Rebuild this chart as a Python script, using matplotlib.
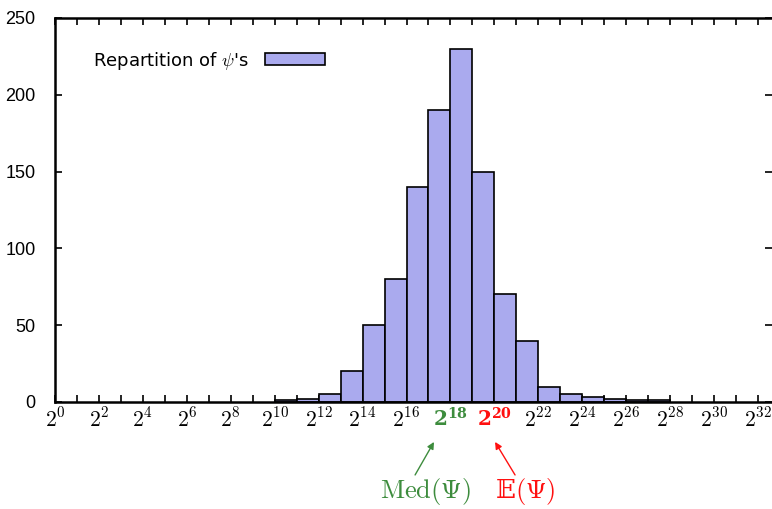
import matplotlib
matplotlib.use("Agg")
import matplotlib.pyplot as plt
import numpy as np

# exponent k of each bin [2^k, 2^(k+1)) and its count
bin_start = [10, 11, 12, 13, 14, 15, 16, 17, 18, 19, 20, 21, 22, 23, 24, 25, 26, 27]
counts = [1, 2, 5, 20, 50, 80, 140, 190, 230, 150, 70, 40, 10, 5, 3, 2, 1, 1]
xtick_pos = list(range(0, 33, 2))
ytick_pos = [0, 50, 100, 150, 200, 250]
median_exp = 18
mean_exp = 20

plt.rcParams['mathtext.fontset'] = 'cm'
plt.rcParams['font.family'] = ['Liberation Sans', 'DejaVu Sans']

green = '#3d8c3d'
red = '#ff1010'

fig = plt.figure(figsize=(7.72, 5.09), dpi=100)
ax = fig.add_axes([55/772, 1-402/509, 717/772, 384/509])

ax.bar(bin_start, counts, width=1, align='edge', color='#aaaaee',
       edgecolor='black', linewidth=1.2, label=r"Repartition of $\psi$'s", zorder=2)

ax.set_xlim(0, 717/21.97)
ax.set_ylim(0, 250)

# ticks on every exponent, labels every 2
ax.set_xticks(range(0, 33), minor=True)
ax.set_xticks(xtick_pos)
labels = []
for k in xtick_pos:
    if k == median_exp or k == mean_exp:
        labels.append(r'$\mathbf{2^{%d}}$' % k)
    else:
        labels.append(r'$2^{%d}$' % k)
ax.set_xticklabels(labels, fontsize=15.5)
for lab, k in zip(ax.get_xticklabels(), xtick_pos):
    if k == median_exp:
        lab.set_color(green)
        lab.set_math_fontfamily('dejavuserif')
        lab.set_fontsize(14.5)
    elif k == mean_exp:
        lab.set_color(red)
        lab.set_math_fontfamily('dejavuserif')
        lab.set_fontsize(14.5)
ax.set_yticks(ytick_pos)
ax.tick_params(axis='y', labelsize=13)
ax.tick_params(which='both', direction='in', length=5, width=1.2,
               top=True, right=True, bottom=True, left=True)
ax.tick_params(axis='x', which='major', pad=4)
ax.tick_params(axis='y', pad=14)

for s in ['left', 'top', 'bottom']:
    ax.spines[s].set_linewidth(1.8)
ax.spines['right'].set_visible(False)

leg = ax.legend(loc='upper left', bbox_to_anchor=(0.03, 0.96), frameon=False,
                markerfirst=False, handlelength=3.3, handleheight=0.66,
                prop={'family': 'DejaVu Sans', 'size': 13}, handletextpad=0.9)

# median / mean annotations below the axis
ax.text(16.84, -0.234, r'$\mathrm{Med}(\Psi)$', transform=ax.get_xaxis_transform(),
        ha='center', va='center', fontsize=19, color=green)
ax.text(21.39, -0.234, '\U0001D53C' + r'$(\Psi)$', transform=ax.get_xaxis_transform(),
        ha='center', va='center', fontsize=19, color=red,
        family=['DejaVu Serif', 'DejaVu Sans'])
ax.annotate('', xy=(17.25, -0.104), xytext=(16.39, -0.19),
            xycoords=('data', 'axes fraction'), textcoords=('data', 'axes fraction'),
            annotation_clip=False,
            arrowprops=dict(arrowstyle='-|>', color=green, lw=1.0,
                            mutation_scale=10, shrinkA=0, shrinkB=0))
ax.annotate('', xy=(20.03, -0.104), xytext=(20.94, -0.19),
            xycoords=('data', 'axes fraction'), textcoords=('data', 'axes fraction'),
            annotation_clip=False,
            arrowprops=dict(arrowstyle='-|>', color=red, lw=1.0,
                            mutation_scale=10, shrinkA=0, shrinkB=0))

plt.savefig('out.png', dpi=100)
